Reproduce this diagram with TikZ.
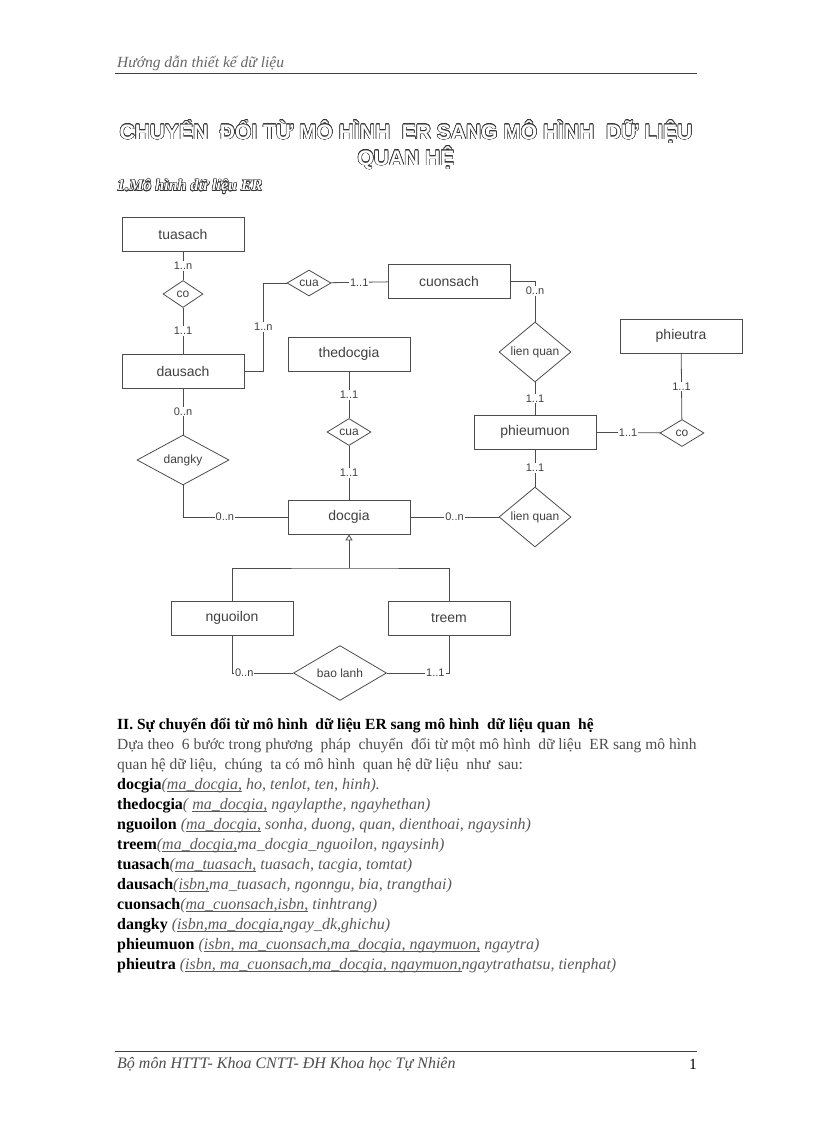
\documentclass[tikz,border=0pt]{standalone}
\usepackage{fontspec}
\setmainfont{Liberation Serif}
\setsansfont{Liberation Sans}
\usepackage[copies]{contour}
\contourlength{0.5pt}
\usetikzlibrary{arrows.meta,positioning,shapes.geometric}

\newcommand{\hollow}[1]{\textcolor{white}{\contour{black!80}{#1}}}
\newcommand{\attr}[1]{\textcolor{black!65}{\itshape #1}}
\newcommand{\key}[1]{\underline{\smash{#1}}}

\begin{document}
\begin{tikzpicture}[
			x=1pt, y=-1pt,
			entity/.style={draw=black!70, line width=0.8pt, minimum width=122pt, minimum height=34pt, inner sep=0pt, font=\sffamily\fontsize{14}{16}\selectfont, text=black!75},
			relation/.style={draw=black!70, line width=0.8pt, diamond, inner sep=0pt, font=\sffamily\fontsize{12}{14}\selectfont, text=black!75},
			card/.style={fill=white, inner sep=1pt, font=\sffamily\fontsize{11}{13}\selectfont, text=black!75},
			link/.style={draw=black!70, line width=0.8pt},
			txt/.style={anchor=west, inner sep=0pt, font=\fontsize{15.5}{17}\selectfont},
			row/.style={anchor=west, inner sep=0pt, font=\fontsize{16}{18}\selectfont},
		]
			\useasboundingbox (0,0) rectangle (816,1123);

			% page head and title
			\node[anchor=west, inner sep=0pt, font=\itshape\fontsize{15.5}{17}\selectfont, text=black!60] (head) at (117,63) {Hướng dẫn thiết kế dữ liệu};
			\draw[black!75, thick] (115,73) -- (697,73);
			\node[inner sep=0pt, font=\sffamily\bfseries\fontsize{21}{24}\selectfont] (title1) at (406,132) {\hollow{CHUYỂN\ \ ĐỔI TỪ MÔ HÌNH\ \ ER SANG MÔ HÌNH\ \ DỮ LIỆU}};
			\node[inner sep=0pt, font=\sffamily\bfseries\fontsize{21}{24}\selectfont] (title2) at (406,158) {\hollow{QUAN HỆ}};
			\node[anchor=west, inner sep=0pt, font=\bfseries\itshape\fontsize{16}{18}\selectfont] (sub) at (117,187) {\hollow{1.Mô hình dữ liệu ER}};

			% entities
			\node[entity] (tuasach) at (183,234) {tuasach};
			\node[entity] (dausach) at (183,371) {dausach};
			\node[entity] (cuonsach) at (449,281) {cuonsach};
			\node[entity] (thedocgia) at (349,354) {thedocgia};
			\node[entity] (phieutra) at (681,336) {phieutra};
			\node[entity] (phieumuon) at (535,432) {phieumuon};
			\node[entity] (docgia) at (349,517) {docgia};
			\node[entity] (nguoilon) at (232,618) {nguoilon};
			\node[entity] (treem) at (449,618) {treem};

			% relationships
			\node[relation, minimum width=40pt, minimum height=27pt] (co1) at (183,294) {co};
			\node[relation, minimum width=44pt, minimum height=22pt] (cua1) at (309,283) {cua};
			\node[relation, minimum width=72pt, minimum height=36pt] (lienquan1) at (535,352) {lien quan};
			\node[relation, minimum width=44pt, minimum height=27pt] (co2) at (682,433) {co};
			\node[relation, minimum width=44pt, minimum height=27pt] (cua2) at (349,432) {cua};
			\node[relation, minimum width=92pt, minimum height=47pt] (dangky) at (183,460) {dangky};
			\node[relation, minimum width=72pt, minimum height=36pt] (lienquan2) at (535,517) {lien quan};
			\node[relation, minimum width=93pt, minimum height=42pt] (baolanh) at (340,673) {bao lanh};
			\coordinate (split) at (349,568);

			% connectors
			\draw[link] (tuasach) -- node[card] {1..n} (co1);
			\draw[link] (co1) -- node[card] {1..1} (dausach);
			\draw[link] (dausach.east) -- ++(19,0) |- node[card, pos=0.25] {1..n} (cua1.west);
			\draw[link] (cua1) -- node[card] {1..1} (cuonsach);
			\draw[link] (cuonsach.east) -| node[card, pos=0.62] {0..n} (lienquan1.north);
			\draw[link] (lienquan1) -- node[card] {1..1} (phieumuon);
			\draw[link] (phieumuon) -- node[card] {1..1} (co2);
			\draw[link] (co2) -- node[card] {1..1} (phieutra);
			\draw[link] (phieumuon) -- node[card] {1..1} (lienquan2);
			\draw[link] (lienquan2) -- node[card] {0..n} (docgia);
			\draw[link] (thedocgia) -- node[card] {1..1} (cua2);
			\draw[link] (cua2) -- node[card] {1..1} (docgia);
			\draw[link] (dausach) -- node[card] {0..n} (dangky);
			\draw[link] (dangky.south) |- node[card, pos=0.7] {0..n} (docgia.west);

			\draw[link, -{Triangle[open, length=6pt, width=7pt]}] (split) -- (docgia.south);
			\draw[link] (nguoilon.north) |- (split) -| (treem.north);
			\draw[link] (nguoilon.south) |- node[card, pos=0.6] {0..n} (baolanh.west);
			\draw[link] (baolanh.east) -| node[card, pos=0.39] {1..1} (treem.south);

			% relational schema
			\node[txt, font=\bfseries\fontsize{15.5}{17}\selectfont] (sec) at (117,726) {II. Sự chuyển đổi từ mô hình\ \ dữ liệu ER sang mô hình\ \ dữ liệu quan\ \ hệ};
			\node[txt, text=black!70] (par1) at (117,746) {Dựa theo\ \ 6 bước trong phương\ \ pháp\ \ chuyển\ \ đổi từ một mô hình\ \ dữ liệu\ \ ER sang mô hình};
			\node[txt, text=black!70] (par2) at (117,766) {quan hệ dữ liệu,\ \ chúng\ \ ta có mô hình\ \ quan hệ dữ liệu\ \ như\ \ sau:};
			\node[row] (r1) at (117,786) {\textbf{docgia}\attr{(\key{ma\_docgia,} ho, tenlot, ten, hinh).}};
			\node[row] (r2) at (117,806) {\textbf{thedocgia}\attr{( \key{ma\_docgia,} ngaylapthe, ngayhethan)}};
			\node[row] (r3) at (117,826) {\textbf{nguoilon} \attr{(\key{ma\_docgia,} sonha, duong, quan, dienthoai, ngaysinh)}};
			\node[row] (r4) at (117,846) {\textbf{treem}\attr{(\key{ma\_docgia,}ma\_docgia\_nguoilon, ngaysinh)}};
			\node[row] (r5) at (117,866) {\textbf{tuasach}\attr{(\key{ma\_tuasach,} tuasach, tacgia, tomtat)}};
			\node[row] (r6) at (117,886) {\textbf{dausach}\attr{(\key{isbn,}ma\_tuasach, ngonngu, bia, trangthai)}};
			\node[row] (r7) at (117,906) {\textbf{cuonsach}\attr{(\key{ma\_cuonsach,isbn,} tinhtrang)}};
			\node[row] (r8) at (117,926) {\textbf{dangky} \attr{(\key{isbn,ma\_docgia,}ngay\_dk,ghichu)}};
			\node[row] (r9) at (117,946) {\textbf{phieumuon} \attr{(\key{isbn, ma\_cuonsach,ma\_docgia, ngaymuon,} ngaytra)}};
			\node[row] (r10) at (117,966) {\textbf{phieutra} \attr{(\key{isbn, ma\_cuonsach,ma\_docgia, ngaymuon,}ngaytrathatsu, tienphat)}};

			% page foot
			\draw[black!75, thick] (115,1051) -- (697,1051);
			\node[anchor=west, inner sep=0pt, font=\itshape\fontsize{16}{18}\selectfont, text=black!70] (foot) at (117,1064) {Bộ môn HTTT- Khoa CNTT- ĐH Khoa học Tự Nhiên};
			\node[anchor=east, inner sep=0pt, font=\fontsize{15.5}{17}\selectfont] (page) at (697,1064) {1};
		\end{tikzpicture}
\end{document}
